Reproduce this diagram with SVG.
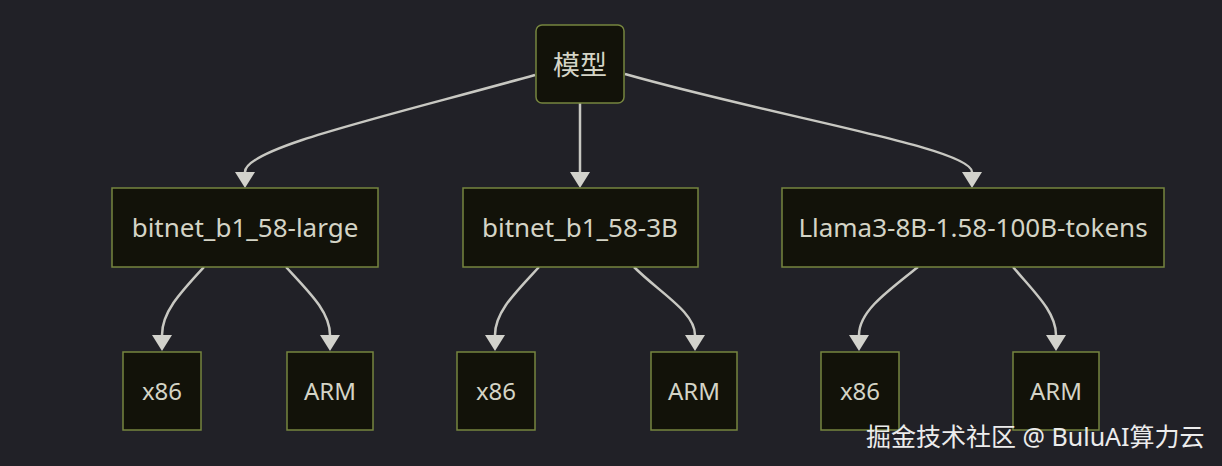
<svg xmlns="http://www.w3.org/2000/svg" width="1222" height="466" viewBox="0 0 1222 466">
<defs>
<style>
.node rect{fill:#121209;stroke:#76853f;stroke-width:1.5}
.node text{font-family:"Noto Sans","Noto Sans CJK SC",sans-serif;font-size:24px;fill:#d4d4c6;text-anchor:middle;dominant-baseline:central}
.node text.mid{font-size:26px}
.node text.top{font-size:27px}
.edges path{fill:none;stroke:#c8c8c2;stroke-width:2.5}
.heads polygon{fill:#d2d2cc;stroke:none}
.wm{font-family:"Noto Sans","Noto Sans CJK SC",sans-serif;font-size:25px;fill:#ececec}
</style>
</defs>
<rect width="1222" height="466" fill="#212127"/>
<g class="edges">
<path d="M535,75 C380,118 245,148 245,172"/>
<path d="M580,103 L580,172"/>
<path d="M625,74 C780,118 972,148 972,172"/>
<path d="M204,267 C180,293 162,312 162,335"/>
<path d="M286,267 C310,293 330,312 330,335"/>
<path d="M539,267 C515,293 495,312 495,335"/>
<path d="M634,267 C660,293 695,312 695,335"/>
<path d="M918,267 C885,293 859,312 859,335"/>
<path d="M1013,267 C1035,293 1056,312 1056,335"/>
</g>
<g class="edges heads">
<polygon points="235,172 255,172 245,188"/>
<polygon points="570,172 590,172 580,188"/>
<polygon points="962,172 982,172 972,188"/>
<polygon points="152,335 172,335 162,351"/>
<polygon points="320,335 340,335 330,351"/>
<polygon points="485,335 505,335 495,351"/>
<polygon points="685,335 705,335 695,351"/>
<polygon points="849,335 869,335 859,351"/>
<polygon points="1046,335 1066,335 1056,351"/>
</g>
<g id="model" class="node"><rect x="536" y="25" width="88" height="78" rx="6"/><text class="top" x="580" y="64">模型</text></g>
<g id="b1large" class="node"><rect x="112" y="188" width="266" height="79"/><text class="mid" x="245" y="227">bitnet_b1_58-large</text></g>
<g id="b13b" class="node"><rect x="463" y="188" width="235" height="79"/><text class="mid" x="580" y="227">bitnet_b1_58-3B</text></g>
<g id="llama" class="node"><rect x="782" y="188" width="382" height="79"/><text class="mid" x="973" y="227">Llama3-8B-1.58-100B-tokens</text></g>
<g id="x86a" class="node"><rect x="123" y="352" width="78" height="78"/><text x="162" y="390">x86</text></g>
<g id="arma" class="node"><rect x="287" y="352" width="86" height="78"/><text x="330" y="390">ARM</text></g>
<g id="x86b" class="node"><rect x="457" y="352" width="78" height="78"/><text x="496" y="390">x86</text></g>
<g id="armb" class="node"><rect x="651" y="352" width="86" height="78"/><text x="694" y="390">ARM</text></g>
<g id="x86c" class="node"><rect x="821" y="352" width="78" height="78"/><text x="860" y="390">x86</text></g>
<g id="armc" class="node"><rect x="1013" y="352" width="86" height="78"/><text x="1056" y="390">ARM</text></g>
<text class="wm" x="866" y="446">掘金技术社区 @ BuluAI算力云</text>
</svg>
